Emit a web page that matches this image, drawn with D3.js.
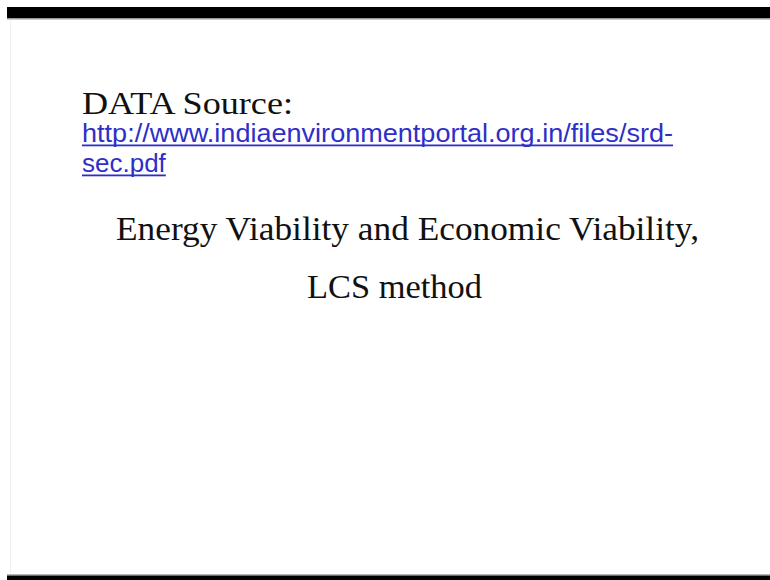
<!DOCTYPE html>
<html>
<head>
<meta charset="utf-8">
<script src="https://cdn.jsdelivr.net/npm/d3@7"></script>
<style>
  html, body { margin: 0; padding: 0; background: #fff; }
</style>
</head>
<body>
<div id="slide"></div>
<script>
// text content of the slide
const headingLines = ["DATA Source:"];
const urlLines = ["http://www.indiaenvironmentportal.org.in/files/srd-", "sec.pdf"];
const titleLines = ["Energy Viability and Economic Viability,", "LCS method"];

const width = 770, height = 580;

const svg = d3.select("#slide")
    .append("svg")
    .attr("width", width)
    .attr("height", height);

// slide frame: black bands top and bottom, faint left edge
svg.append("rect").attr("x", 0).attr("y", 0).attr("width", width).attr("height", height).attr("fill", "#fff");
svg.append("rect").attr("x", 7).attr("y", 7).attr("width", width - 7).attr("height", 11).attr("fill", "#000");
svg.append("rect").attr("x", 7).attr("y", 18).attr("width", width - 7).attr("height", 1.5).attr("fill", "#9a9a9a");
svg.append("rect").attr("x", 7).attr("y", 574).attr("width", width - 7).attr("height", 1.5).attr("fill", "#b8b8b8");
svg.append("rect").attr("x", 7).attr("y", 575.5).attr("width", width - 7).attr("height", 5).attr("fill", "#000");
svg.append("rect").attr("x", 10).attr("y", 19.5).attr("width", 1).attr("height", 554).attr("fill", "#f0f0f0");

// heading "DATA Source:"
svg.selectAll("text.heading")
    .data(headingLines)
    .enter()
    .append("text")
    .attr("class", "heading")
    .attr("x", 82)
    .attr("y", 114)
    .attr("textLength", 211)
    .attr("lengthAdjust", "spacingAndGlyphs")
    .style("font-family", "'Liberation Serif', 'Times New Roman', serif")
    .style("font-size", "32px")
    .style("fill", "#111")
    .text(d => d);

// link lines, blue with underline
const urlY = [142, 172];
const urlLen = [591, null];
const link = svg.selectAll("g.url")
    .data(urlLines)
    .enter()
    .append("g")
    .attr("class", "url");

link.append("text")
    .attr("x", 82)
    .attr("y", (d, i) => urlY[i])
    .each(function(d, i) {
        if (urlLen[i]) d3.select(this).attr("textLength", urlLen[i]).attr("lengthAdjust", "spacingAndGlyphs");
    })
    .style("font-family", "'Liberation Sans', Arial, sans-serif")
    .style("font-size", "26px")
    .style("fill", "#2f2fc8")
    .text(d => d);

link.each(function(d, i) {
    const g = d3.select(this);
    const w = urlLen[i] || g.select("text").node().getComputedTextLength();
    g.append("rect")
        .attr("x", 82)
        .attr("y", urlY[i] + 2.5)
        .attr("width", w)
        .attr("height", 1.8)
        .attr("fill", "#2f2fc8");
});

// title lines, centred serif
const titleX = [116, 307];
const titleY = [240, 298];
const titleLen = [583, 175];
svg.selectAll("text.title")
    .data(titleLines)
    .enter()
    .append("text")
    .attr("class", "title")
    .attr("x", (d, i) => titleX[i])
    .attr("y", (d, i) => titleY[i])
    .attr("textLength", (d, i) => titleLen[i])
    .attr("lengthAdjust", "spacingAndGlyphs")
    .style("font-family", "'Liberation Serif', 'Times New Roman', serif")
    .style("font-size", "33px")
    .style("fill", "#111")
    .text(d => d);
</script>
</body>
</html>
